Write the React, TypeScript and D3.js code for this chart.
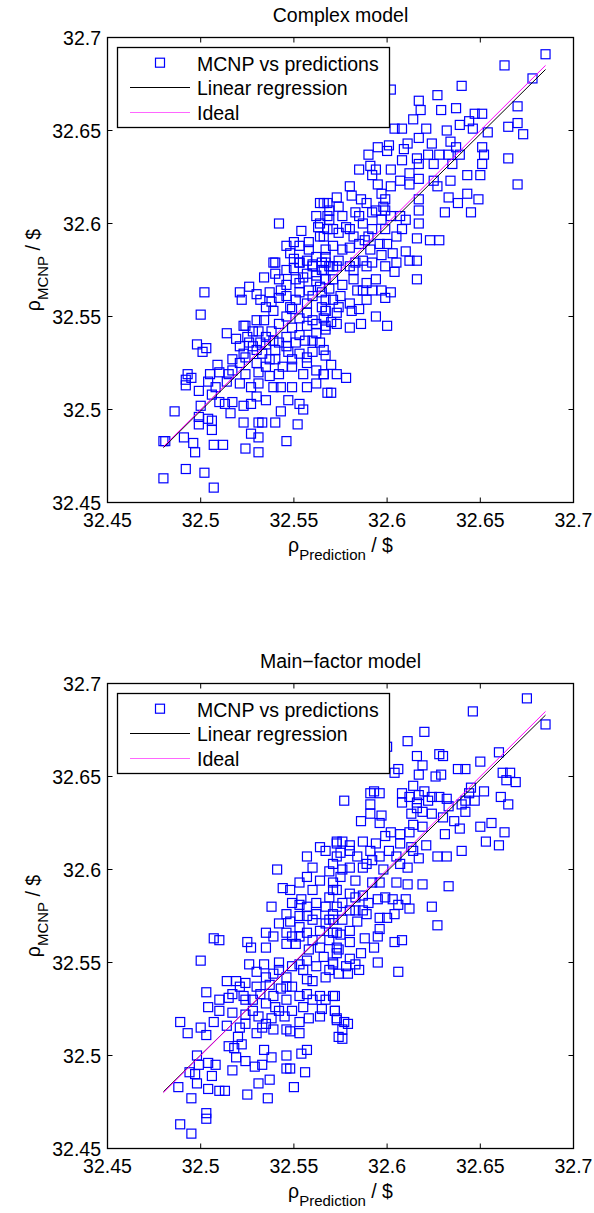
import React from "react";
import * as d3 from "d3";

const axisTicks = [32.45, 32.5, 32.55, 32.6, 32.65, 32.7];
const tickLabels = ["32.45", "32.5", "32.55", "32.6", "32.65", "32.7"];
const panelTitles = ["Complex model", "Main\u2212factor model"];
const legendLabels = ["MCNP vs predictions", "Linear regression", "Ideal"];

// [prediction, MCNP]
const complexPoints: [number, number][] = [
  [32.564,32.611],[32.542,32.600],[32.554,32.596],[32.546,32.588],[32.550,32.590],[32.558,32.590],[32.563,32.598],[32.548,32.584],[32.550,32.581],[32.540,32.579],[32.564,32.593],[32.567,32.586],[32.560,32.577],[32.568,32.611],[32.568,32.604],[32.568,32.597],
  [32.685,32.691],[32.663,32.685],[32.678,32.678],[32.640,32.674],[32.602,32.672],[32.627,32.669],[32.617,32.666],[32.618,32.661],[32.629,32.661],[32.637,32.662],[32.670,32.663],[32.647,32.659],[32.651,32.659],[32.614,32.656],[32.644,32.655],[32.670,32.654],[32.665,32.652],[32.604,32.651],[32.608,32.651],[32.621,32.651],[32.632,32.650],[32.639,32.653],[32.646,32.651],[32.654,32.649],[32.673,32.648],[32.617,32.646],[32.611,32.643],[32.624,32.643],[32.634,32.644],[32.601,32.642],[32.595,32.641],[32.590,32.637],[32.600,32.639],[32.609,32.640],[32.608,32.634],[32.616,32.635],[32.622,32.637],[32.628,32.637],[32.633,32.637],[32.637,32.641],[32.639,32.637],[32.651,32.641],[32.652,32.637],[32.665,32.635],[32.651,32.632],[32.635,32.632],[32.625,32.632],[32.617,32.632],[32.585,32.629],[32.591,32.631],[32.594,32.629],[32.602,32.629],[32.612,32.627],[32.592,32.626],[32.607,32.623],[32.617,32.624],[32.625,32.623],[32.612,32.621],[32.634,32.623],[32.643,32.626],[32.650,32.626],[32.670,32.621],[32.627,32.620],[32.602,32.620],[32.595,32.621],[32.580,32.620],[32.643,32.616],[32.633,32.614],[32.649,32.613],[32.617,32.613],[32.638,32.611],[32.631,32.606],[32.645,32.606],[32.617,32.607],[32.610,32.602],[32.617,32.600],[32.605,32.593],[32.616,32.592],[32.623,32.591],[32.628,32.591],[32.610,32.585],[32.616,32.580],[32.612,32.580],
  [32.566,32.611],[32.569,32.607],[32.581,32.615],[32.586,32.613],[32.597,32.616],[32.599,32.613],[32.598,32.609],[32.592,32.606],[32.583,32.606],[32.576,32.604],[32.569,32.602],[32.578,32.598],[32.587,32.600],[32.597,32.602],[32.602,32.604],[32.592,32.597],[32.574,32.595],[32.566,32.593],[32.582,32.593],[32.588,32.591],[32.600,32.589],[32.571,32.588],[32.580,32.587],[32.591,32.586],[32.597,32.583],[32.567,32.582],[32.574,32.580],[32.583,32.579],[32.592,32.579],[32.605,32.579],[32.603,32.584],[32.565,32.579],
  [32.616,32.570],[32.604,32.574],[32.599,32.577],[32.594,32.570],[32.587,32.564],[32.592,32.564],[32.597,32.564],[32.602,32.563],[32.584,32.564],[32.589,32.559],[32.599,32.560],[32.576,32.567],[32.569,32.565],[32.575,32.561],[32.571,32.559],[32.574,32.555],[32.581,32.553],[32.567,32.553],[32.566,32.549],[32.570,32.547],[32.573,32.546],[32.594,32.550],[32.586,32.546],[32.580,32.544],[32.600,32.545],[32.567,32.543],[32.566,32.532],[32.570,32.524],[32.566,32.519],[32.573,32.519],[32.578,32.517],[32.570,32.509],
  [32.502,32.563],[32.500,32.551],[32.521,32.563],[32.526,32.566],[32.530,32.562],[32.522,32.559],[32.534,32.571],[32.539,32.579],[32.542,32.570],[32.538,32.558],[32.543,32.564],[32.550,32.576],[32.555,32.571],[32.560,32.578],[32.553,32.563],[32.564,32.566],[32.548,32.555],[32.557,32.557],[32.565,32.555],[32.553,32.549],[32.560,32.548],[32.567,32.545],[32.549,32.544],[32.534,32.548],[32.531,32.542],[32.538,32.542],[32.542,32.536],[32.546,32.539],[32.551,32.536],[32.556,32.537],[32.514,32.541],[32.519,32.538],[32.523,32.545],[32.528,32.542],[32.521,32.534],[32.526,32.536],[32.530,32.532],[32.535,32.535],[32.540,32.532],[32.547,32.531],[32.553,32.530],[32.560,32.531],[32.567,32.529],[32.498,32.535],[32.503,32.533],[32.501,32.531],[32.524,32.528],[32.521,32.525],[32.517,32.521],[32.530,32.525],[32.535,32.523],[32.540,32.527],[32.549,32.523],[32.557,32.525],[32.562,32.521],[32.566,32.519],[32.555,32.519],[32.542,32.519],[32.537,32.518],[32.531,32.520],[32.524,32.519],[32.509,32.524],[32.515,32.519],[32.505,32.519],[32.510,32.520],[32.493,32.519],[32.495,32.517],[32.492,32.513],[32.492,32.516],[32.504,32.515],[32.508,32.512],[32.514,32.515],[32.521,32.514],[32.527,32.512],[32.531,32.514],[32.539,32.512],[32.543,32.512],[32.549,32.512],[32.557,32.512],[32.562,32.514],[32.568,32.509],[32.499,32.510],[32.506,32.508],[32.510,32.504],[32.513,32.503],[32.517,32.504],[32.523,32.502],[32.527,32.503],[32.530,32.507],[32.535,32.505],[32.543,32.499],[32.547,32.505],[32.553,32.503],[32.555,32.500],[32.486,32.499],[32.500,32.502],[32.499,32.496],[32.499,32.492],[32.504,32.495],[32.506,32.494],[32.506,32.489],[32.516,32.498],[32.523,32.493],[32.531,32.493],[32.533,32.493],[32.540,32.493],[32.552,32.492],[32.527,32.487],[32.531,32.485],[32.546,32.483],[32.480,32.483],[32.481,32.483],[32.491,32.485],[32.496,32.482],[32.497,32.477],[32.507,32.481],[32.512,32.481],[32.524,32.479],[32.531,32.477],[32.492,32.468],[32.502,32.466],[32.480,32.463],[32.507,32.458],
  [32.546,32.550],[32.557,32.545],[32.562,32.541],[32.553,32.540],[32.535,32.539],[32.525,32.539],[32.564,32.536],[32.567,32.553],[32.567,32.559],[32.560,32.561],[32.551,32.559],[32.546,32.575],[32.553,32.568],[32.562,32.572],[32.566,32.575],[32.539,32.553],[32.542,32.560],
  [32.553,32.579],[32.557,32.573],[32.562,32.569],[32.565,32.563],[32.558,32.564],[32.551,32.570],[32.546,32.567],[32.540,32.573],[32.537,32.563],[32.532,32.559],[32.549,32.554],[32.557,32.552],[32.562,32.546],[32.542,32.546],[32.546,32.534],[32.539,32.537],[32.533,32.530],[32.528,32.534],[32.523,32.530],[32.517,32.527],[32.560,32.537],[32.557,32.528],[32.549,32.527],[32.544,32.523],[32.537,32.527],[32.532,32.536],[32.524,32.545],[32.530,32.548],[32.535,32.555],[32.546,32.561],[32.567,32.570],[32.569,32.577],
  [32.553,32.588],[32.557,32.580],[32.562,32.582],[32.553,32.579],[32.567,32.579],[32.562,32.604],[32.564,32.600],[32.558,32.586],
  [32.573,32.614],[32.574,32.609],[32.589,32.611],[32.585,32.604],[32.580,32.597],[32.571,32.597],[32.590,32.593],[32.585,32.589],[32.576,32.586],[32.599,32.597],[32.596,32.589],[32.587,32.580],[32.580,32.577],[32.571,32.577],[32.594,32.607],[32.599,32.607],[32.607,32.604],[32.608,32.597],
  [32.565,32.575],[32.573,32.577],[32.582,32.575],[32.589,32.577],[32.582,32.570],[32.589,32.568],[32.571,32.570],[32.580,32.557],[32.573,32.552],[32.585,32.554]
];

const mainPoints: [number, number][] = [
  [32.573,32.615],[32.564,32.612],[32.557,32.607],[32.541,32.600],[32.557,32.596],[32.544,32.590],[32.548,32.589],[32.554,32.584],[32.560,32.589],[32.564,32.594],[32.569,32.599],[32.573,32.607],[32.571,32.589],[32.538,32.580],[32.562,32.582],[32.567,32.580],
  [32.675,32.692],[32.646,32.685],[32.685,32.678],[32.620,32.674],[32.611,32.669],[32.600,32.666],[32.616,32.661],[32.628,32.662],[32.630,32.661],[32.660,32.663],[32.650,32.658],[32.619,32.656],[32.606,32.654],[32.604,32.652],[32.617,32.651],[32.629,32.651],[32.626,32.650],[32.638,32.654],[32.642,32.654],[32.662,32.652],[32.666,32.652],[32.664,32.648],[32.669,32.647],[32.614,32.645],[32.620,32.642],[32.645,32.644],[32.593,32.642],[32.596,32.641],[32.591,32.641],[32.608,32.641],[32.612,32.639],[32.617,32.640],[32.624,32.639],[32.628,32.639],[32.632,32.638],[32.644,32.641],[32.652,32.642],[32.577,32.637],[32.608,32.636],[32.616,32.636],[32.622,32.637],[32.642,32.637],[32.647,32.637],[32.661,32.639],[32.665,32.635],[32.591,32.635],[32.616,32.633],[32.619,32.631],[32.613,32.630],[32.633,32.634],[32.640,32.635],[32.642,32.631],[32.591,32.630],[32.597,32.629],[32.630,32.628],[32.624,32.630],[32.586,32.626],[32.596,32.625],[32.602,32.620],[32.614,32.624],[32.619,32.623],[32.636,32.626],[32.639,32.622],[32.650,32.623],[32.656,32.625],[32.663,32.620],[32.631,32.619],[32.607,32.619],[32.599,32.618],[32.612,32.620],[32.653,32.615],[32.660,32.613],[32.576,32.615],[32.573,32.614],[32.587,32.615],[32.594,32.614],[32.580,32.613],[32.607,32.614],[32.613,32.612],[32.621,32.613],[32.640,32.610],[32.601,32.610],[32.591,32.610],[32.575,32.609],[32.584,32.607],[32.596,32.607],[32.614,32.610],[32.617,32.606],[32.607,32.603],[32.611,32.601],[32.627,32.607],[32.632,32.607],[32.571,32.603],[32.580,32.601],[32.589,32.603],[32.598,32.600],[32.605,32.593],[32.611,32.592],[32.619,32.592],[32.633,32.591],[32.575,32.596],[32.583,32.594],[32.592,32.593],[32.573,32.589],[32.580,32.587],[32.587,32.586],[32.595,32.584],[32.603,32.584],[32.610,32.584],[32.624,32.580],[32.576,32.582],
  [32.627,32.570],[32.612,32.579],[32.606,32.581],[32.604,32.576],[32.600,32.574],[32.596,32.574],[32.596,32.568],[32.595,32.564],[32.589,32.576],[32.584,32.572],[32.588,32.563],[32.593,32.558],[32.604,32.561],[32.608,32.562],[32.586,32.555],[32.595,32.550],[32.606,32.545],[32.580,32.561],[32.575,32.565],[32.574,32.557],[32.580,32.552],[32.583,32.549],[32.585,32.546],[32.579,32.544],[32.574,32.544],[32.571,32.550],[32.572,32.532],[32.572,32.524],[32.573,32.520],[32.577,32.518],[32.579,32.517],[32.576,32.514],[32.576,32.509],[32.571,32.573],[32.580,32.578],
  [32.553,32.581],[32.557,32.575],[32.562,32.576],[32.571,32.576],[32.542,32.571],[32.548,32.572],[32.553,32.569],[32.564,32.567],[32.535,32.566],[32.539,32.564],[32.507,32.563],[32.510,32.562],[32.525,32.561],[32.527,32.558],[32.535,32.558],[32.546,32.560],[32.551,32.560],[32.558,32.557],[32.569,32.562],[32.573,32.555],[32.500,32.551],[32.526,32.549],[32.534,32.549],[32.542,32.550],[32.553,32.549],[32.562,32.548],[32.569,32.546],[32.530,32.545],[32.539,32.544],[32.546,32.542],[32.514,32.540],[32.519,32.540],[32.524,32.539],[32.530,32.537],[32.537,32.538],[32.543,32.536],[32.549,32.537],[32.557,32.533],[32.564,32.532],[32.571,32.532],[32.503,32.534],[32.515,32.531],[32.523,32.532],[32.528,32.530],[32.535,32.528],[32.540,32.526],[32.549,32.524],[32.555,32.526],[32.565,32.525],[32.572,32.524],[32.504,32.526],[32.510,32.524],[32.517,32.523],[32.524,32.522],[32.531,32.521],[32.538,32.520],[32.545,32.521],[32.553,32.518],[32.558,32.520],[32.564,32.521],[32.573,32.519],[32.489,32.518],[32.493,32.512],[32.500,32.515],[32.503,32.511],[32.507,32.518],[32.514,32.516],[32.521,32.515],[32.530,32.512],[32.533,32.515],[32.539,32.514],[32.548,32.513],[32.553,32.512],[32.574,32.510],[32.520,32.510],[32.515,32.505],[32.518,32.504],[32.519,32.499],[32.522,32.506],[32.534,32.503],[32.538,32.499],[32.546,32.500],[32.554,32.501],[32.557,32.503],[32.498,32.500],[32.499,32.495],[32.504,32.496],[32.508,32.495],[32.524,32.497],[32.529,32.494],[32.533,32.495],[32.517,32.492],[32.546,32.493],[32.548,32.493],[32.556,32.491],[32.494,32.491],[32.497,32.490],[32.506,32.489],[32.537,32.487],[32.531,32.485],[32.498,32.485],[32.488,32.483],[32.504,32.482],[32.510,32.481],[32.513,32.481],[32.525,32.479],[32.536,32.477],[32.550,32.483],[32.495,32.477],[32.503,32.469],[32.503,32.466],[32.489,32.463],[32.495,32.458],
  [32.569,32.573],[32.560,32.562],[32.566,32.553],[32.555,32.546],[32.549,32.564],[32.557,32.566],[32.571,32.549],[32.560,32.540],[32.567,32.542],
  [32.546,32.576],[32.553,32.575],[32.560,32.573],[32.567,32.571],[32.546,32.566],[32.553,32.564],[32.564,32.558],[32.571,32.566],[32.557,32.551],[32.549,32.548],[32.542,32.546],[32.535,32.542],[32.532,32.533],[32.524,32.530],[32.539,32.532],[32.546,32.530],[32.553,32.532],[32.560,32.530],[32.567,32.530],[32.557,32.541],[32.546,32.537],[32.521,32.537],[32.517,32.533],[32.510,32.530],[32.528,32.524],[32.535,32.517],[32.524,32.517],[32.546,32.514],[32.542,32.524],
  [32.573,32.580],[32.576,32.573],[32.583,32.578],[32.573,32.566],[32.580,32.567],[32.573,32.558],[32.578,32.548],[32.587,32.578],
  [32.580,32.610],[32.587,32.601],[32.576,32.600],[32.596,32.593],[32.583,32.585],[32.590,32.582],[32.599,32.585],[32.571,32.593],[32.605,32.607],[32.592,32.605],
  [32.567,32.610],[32.560,32.601],[32.553,32.593],[32.569,32.585],[32.557,32.580],[32.549,32.582]
];

// regression line end points (prediction -> fitted MCNP)
const fitX = [32.48, 32.685];
const complexFitY = [32.4795, 32.6828];
const mainFitY = [32.4805, 32.6830];
const idealY = [32.48, 32.685];

const FONT = "'Liberation Sans', Arial, Helvetica, sans-serif";
const BLUE = "#0000ff";
const MAGENTA = "#ff00ff";

type PanelProps = {
  oy: number;
  title: string;
  points: [number, number][];
  fitY: number[];
};

function Panel({ oy, title, points, fitY }: PanelProps) {
  const left = 107.5, right = 573.5, top = oy + 37.5, bottom = oy + 502.5;
  const x = d3.scaleLinear().domain([32.45, 32.7]).range([left, right]);
  const y = d3.scaleLinear().domain([32.45, 32.7]).range([bottom, top]);
  const line = d3.line<[number, number]>().x((d) => x(d[0])).y((d) => y(d[1]));
  const fitData = fitX.map((v, i) => [v, fitY[i]] as [number, number]);
  const idealData = fitX.map((v, i) => [v, idealY[i]] as [number, number]);
  const cx = (left + right) / 2;
  const cy = (top + bottom) / 2;
  const tl = 5;
  const ms = 9;
  const lgX = 117.5, lgY = oy + 47.5;
  return (
    <g fontFamily={FONT} fill="#000">
      <text x={cx} y={oy + 22} textAnchor="middle" fontSize={19.5}>{title}</text>
      <g>
        {points.map((p, i) => (
          <rect key={i} x={x(p[0]) - ms / 2} y={y(p[1]) - ms / 2} width={ms} height={ms}
            fill="none" stroke={BLUE} strokeWidth={1.2} />
        ))}
      </g>
      <path d={line(fitData) || ""} stroke="#000" strokeWidth={1} fill="none" />
      <path d={line(idealData) || ""} stroke={MAGENTA} strokeWidth={1} fill="none" />
      <rect x={left} y={top} width={right - left} height={bottom - top} fill="none" stroke="#000" strokeWidth={1.3} />
      {axisTicks.map((t, i) => (
        <g key={"xt" + i}>
          <line x1={x(t)} x2={x(t)} y1={bottom} y2={bottom - tl} stroke="#000" />
          <line x1={x(t)} x2={x(t)} y1={top} y2={top + tl} stroke="#000" />
          <text x={x(t)} y={oy + 527} textAnchor="middle" fontSize={19.5}>{tickLabels[i]}</text>
        </g>
      ))}
      {axisTicks.map((t, i) => (
        <g key={"yt" + i}>
          <line x1={left} x2={left + tl} y1={y(t)} y2={y(t)} stroke="#000" />
          <line x1={right} x2={right - tl} y1={y(t)} y2={y(t)} stroke="#000" />
          <text x={101} y={y(t) + 7.3} textAnchor="end" fontSize={19.5}>{tickLabels[i]}</text>
        </g>
      ))}
      <rect x={lgX} y={lgY} width={272} height={80} fill="#fff" stroke="#000" strokeWidth={1.3} />
      <rect x={160 - ms / 2} y={oy + 62.7 - ms / 2} width={ms} height={ms} fill="none" stroke={BLUE} strokeWidth={1.2} />
      <line x1={130} x2={190} y1={oy + 87.5} y2={oy + 87.5} stroke="#000" strokeWidth={1} />
      <line x1={130} x2={190} y1={oy + 112.5} y2={oy + 112.5} stroke={MAGENTA} strokeWidth={1} strokeOpacity={0.6} />
      <text x={197} y={oy + 70.5} fontSize={19.5}>{legendLabels[0]}</text>
      <text x={197} y={oy + 95.3} fontSize={19.5}>{legendLabels[1]}</text>
      <text x={197} y={oy + 119.8} fontSize={19.5}>{legendLabels[2]}</text>
      <text x={cx} y={oy + 552} textAnchor="middle" fontSize={19.5}>
        ρ<tspan dy={8} fontSize={15}>Prediction</tspan><tspan dy={-8}> / $</tspan>
      </text>
      <text transform={`translate(40,${cy}) rotate(-90)`} textAnchor="middle" fontSize={19.5}>
        ρ<tspan dy={8} fontSize={15}>MCNP</tspan><tspan dy={-8}> / $</tspan>
      </text>
    </g>
  );
}

export default function App() {
  return (
    <svg width={594} height={1213} style={{ position: "absolute", left: 0, top: 0, background: "#fff" }}>
      <rect x={0} y={0} width={594} height={1213} fill="#fff" />
      <Panel oy={0} title={panelTitles[0]} points={complexPoints} fitY={complexFitY} />
      <Panel oy={646} title={panelTitles[1]} points={mainPoints} fitY={mainFitY} />
    </svg>
  );
}
